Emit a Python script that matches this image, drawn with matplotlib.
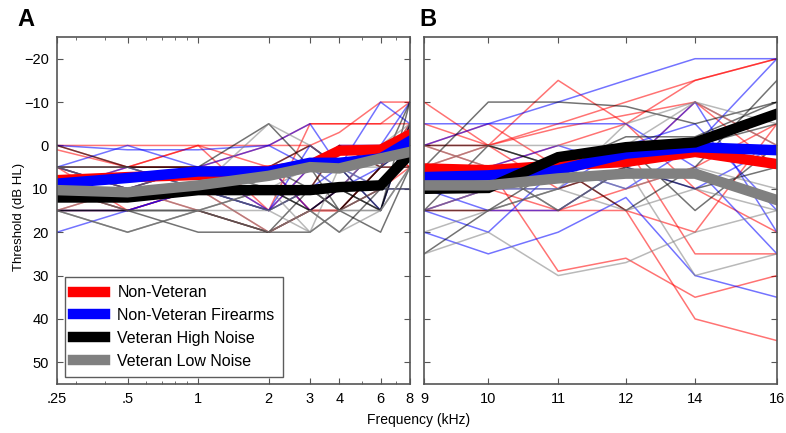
import numpy as np
import matplotlib.pyplot as plt
from matplotlib.ticker import FixedLocator, FixedFormatter, NullFormatter, LogLocator

plt.rcParams['font.family'] = ['Liberation Sans', 'DejaVu Sans']

# panel A frequencies (kHz)
freq_a = [0.25, 0.5, 1, 2, 3, 4, 6, 8]
freq_a_labels = ['.25', '.5', '1', '2', '3', '4', '6', '8']
# panel B frequencies (kHz) and where they sit on the axis
freq_b = [9, 10, 11, 12, 14, 16]
freq_b_pos = [0, 0.91, 1.9, 2.86, 3.84, 5.0]

groups = ['Non-Veteran', 'Non-Veteran Firearms', 'Veteran High Noise', 'Veteran Low Noise']
colors = ['#ff0000', '#0000ff', '#000000', '#808080']

# group means
mean_a = {
    'Non-Veteran':          [8, 7.3, 6.8, 5.8, 4.5, 1.2, 1, -2.5],
    'Non-Veteran Firearms': [8.8, 7.5, 6, 6, 4, 4, 3, -1],
    'Veteran High Noise':   [12, 12, 10.3, 10.3, 10.3, 9.6, 9.2, 2],
    'Veteran Low Noise':    [10.3, 10.8, 9.2, 7, 5, 5.3, 3, 1.5],
}
mean_b = {
    'Non-Veteran':          [5.3, 5.7, 4.6, 3.8, 1.5, 4.3],
    'Non-Veteran Firearms': [7.3, 6.9, 5.7, 1.9, 0.4, 1.1],
    'Veteran High Noise':   [10, 9.8, 2.7, 0.4, -0.7, -7.3],
    'Veteran Low Noise':    [9.2, 9.2, 7.6, 6.5, 6.5, 12.6],
}

# individual listeners, panel A
ind_a = {
    'Non-Veteran': [
        [0, 0, 0, 0, 0, -3, -10, -10],
        [5, 5, 5, 5, 15, 15, 5, -5],
        [1, 5, 0, 15, -5, -5, -5, -10],
        [15, 15, 10, 20, 15, 15, 5, 5],
        [10, 15, 10, 5, 15, 10, 0, 0],
        [5, 10, 5, 15, 5, 0, 0, 5],
        [15, 10, 15, 20, 15, 15, 10, 5],
        [0, 5, 5, 0, -5, -5, -5, -5],
        [10, 5, 0, 5, 0, 5, 0, 5],
        [5, 15, 10, 10, 10, 0, 5, -5],
    ],
    'Non-Veteran Firearms': [
        [20, 15, 10, 5, 15, 10, 5, 0],
        [5, 0, 5, 0, -5, 5, -10, -5],
        [5, 10, 5, 15, 10, 5, 10, 10],
        [10, 5, 10, 15, 0, 5, 15, -5],
        [15, 15, 10, 15, 5, 0, 0, 0],
        [0, 1, 1, 0, 5, 10, 0, -10],
    ],
    'Veteran High Noise': [
        [15, 15, 15, 20, 15, 10, 15, -5],
        [5, 5, 5, 5, 10, 0, 5, -10],
        [15, 15, 20, 20, 10, 15, 10, 0],
        [0, 5, 5, 10, 15, 10, 15, -5],
        [10, 10, 5, -5, 5, 15, 5, 5],
        [5, 10, 10, 15, 10, 15, 5, 0],
        [15, 20, 15, 20, 20, 15, 20, 5],
        [10, 15, 15, 10, 15, 20, 10, 10],
        [5, 5, 10, 5, 0, 5, 15, -10],
    ],
    'Veteran Low Noise': [
        [15, 20, 15, 20, 15, 20, 15, 5],
        [10, 15, 15, 10, 20, 15, 15, 5],
        [5, 10, 10, -5, 0, 5, 5, -5],
        [10, 10, 10, 15, 20, 5, 10, 0],
        [10, 10, 5, 10, 5, 10, 0, -5],
        [15, 10, 15, 15, 10, 15, 15, 5],
        [5, 5, 10, 20, 15, 15, 10, 10],
    ],
}

# individual listeners, panel B
ind_b = {
    'Non-Veteran': [
        [-10, 0, -15, -5, -15, -20],
        [0, -5, 5, 0, 25, 25],
        [5, 5, 29, 26, 35, 30],
        [10, 10, 5, 15, 40, 45],
        [-5, 0, -5, -10, -15, -20],
        [15, 15, 15, 10, 5, -5],
        [0, 5, 0, -5, 10, 20],
        [5, 0, 10, 5, -10, 5],
        [15, 10, 15, 15, 20, -5],
        [0, 0, -4, -7, -10, 0],
    ],
    'Non-Veteran Firearms': [
        [-5, -5, -5, -5, 5, 25],
        [20, 25, 20, 12, 30, 35],
        [15, 20, 5, 10, 0, -20],
        [0, -5, -10, -15, -20, -20],
        [10, 15, 15, 5, -10, 20],
        [5, 5, 0, 5, 10, 0],
        [15, 10, 10, 0, -5, 15],
    ],
    'Veteran High Noise': [
        [5, -10, -10, -9, -5, -10],
        [15, 0, 5, 15, 5, -15],
        [25, 15, 10, 5, 0, -5],
        [0, 0, 5, 0, 15, 0],
        [10, 5, 15, 5, 10, 5],
        [15, 15, 5, -2, -2, -10],
    ],
    'Veteran Low Noise': [
        [25, 20, 30, 27, 20, 15],
        [15, 10, 10, -5, -10, 0],
        [0, 5, 5, 10, 5, 10],
        [10, 5, 15, 5, 30, 25],
        [5, 0, 0, 0, -10, -5],
        [20, 15, 10, 15, 10, 15],
    ],
}

fig = plt.figure(figsize=(7.86, 4.33), dpi=100)
ax1 = fig.add_axes([0.0725, 0.1132, 0.449, 0.8013])
ax2 = fig.add_axes([0.5395, 0.1132, 0.449, 0.8013])

for g, c in zip(groups, colors):
    for vals in ind_a[g]:
        ax1.plot(freq_a, vals, color=c, lw=1.1, alpha=0.55)
    for vals in ind_b[g]:
        ax2.plot(freq_b_pos, vals, color=c, lw=1.1, alpha=0.55)

for g, c in zip(groups, colors):
    ax1.plot(freq_a, mean_a[g], color=c, lw=7.5, solid_joinstyle='miter', label=g)
    ax2.plot(freq_b_pos, mean_b[g], color=c, lw=7.5, solid_joinstyle='miter')

ax1.set_xscale('log')
ax1.set_xlim(0.25, 8)
ax1.xaxis.set_major_locator(FixedLocator(freq_a))
ax1.xaxis.set_major_formatter(FixedFormatter(freq_a_labels))
ax1.xaxis.set_minor_locator(LogLocator(base=10, subs=np.arange(2, 10)))
ax1.xaxis.set_minor_formatter(NullFormatter())

ax2.set_xlim(freq_b_pos[0], freq_b_pos[-1])
ax2.set_xticks(freq_b_pos)
ax2.set_xticklabels([str(f) for f in freq_b])

yt = [-20, -10, 0, 10, 20, 30, 40, 50]
for ax in (ax1, ax2):
    ax.set_ylim(55, -25)
    ax.set_yticks(yt)
    ax.tick_params(which='both', direction='in', top=True, right=True,
                   labelsize=10.5, color='#555555', pad=6)
    ax.tick_params(which='major', length=4)
    ax.tick_params(which='minor', length=2)
    for s in ax.spines.values():
        s.set_color('#555555')
        s.set_linewidth(1.2)
ax1.set_yticklabels(['\u221220', '\u221210', '0', '10', '20', '30', '40', '50'])
ax2.set_yticklabels([])

leg = ax1.legend(loc='lower left', fontsize=11.5, frameon=True, fancybox=False,
                 handlelength=2.0, handletextpad=0.8, borderpad=0.5, labelspacing=0.5,
                 borderaxespad=0, bbox_to_anchor=(0.022, 0.02))
leg.get_frame().set_edgecolor('#333333')
leg.get_frame().set_linewidth(1.0)

fig.text(0.024, 0.5, 'Threshold (dB HL)', rotation=90, va='center', ha='center', fontsize=9.5)
fig.text(0.533, 0.03, 'Frequency (kHz)', ha='center', va='center', fontsize=10)
fig.text(0.022, 0.955, 'A', fontsize=17, fontweight='bold', va='center')
fig.text(0.533, 0.955, 'B', fontsize=17, fontweight='bold', va='center')

fig.savefig('out.png', dpi=100)
